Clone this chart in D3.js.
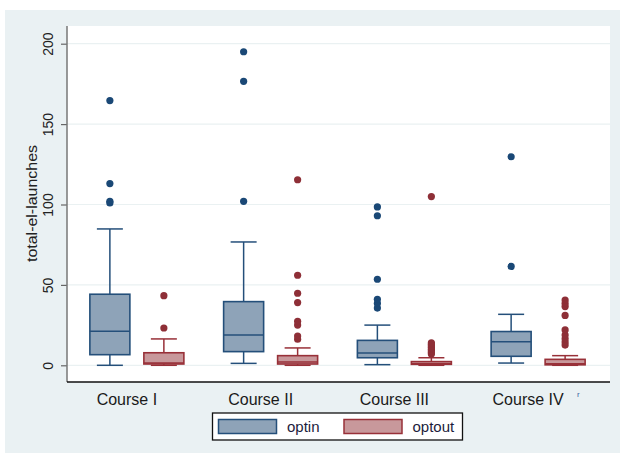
<!DOCTYPE html>
<html><head><meta charset="utf-8">
<script src="https://cdn.jsdelivr.net/npm/d3@7/dist/d3.min.js"></script>
<style>body{margin:0;background:#fff}svg{display:block;font-family:"Liberation Sans",Arial,sans-serif}</style>
</head><body>
<svg id="c" width="620" height="454"></svg>
<script>
const courses = ["Course I","Course II","Course III","Course IV"];
const series = ["optin","optout"];
const yTicks = [0,50,100,150,200];

const optinLow  = [0, 1.2, 0.4, 1.4];
const optinQ1   = [6.6, 8.5, 4.7, 5.6];
const optinMed  = [21.1, 18.8, 7.6, 14.7];
const optinQ3   = [44.2, 39.6, 15.5, 21];
const optinHigh = [84.8, 76.7, 25, 31.7];
const optinOut  = [[101, 102, 113, 164.6], [102, 176.6, 195], [35.6, 38.5, 41, 53.5, 93, 98.5], [61.5, 129.7]];

const optoutLow  = [0, 0, 0, 0];
const optoutQ1   = [0.8, 0.8, 0.6, 0.3];
const optoutMed  = [1.5, 2, 1, 1];
const optoutQ3   = [7.8, 6, 2.3, 3.7];
const optoutHigh = [16.4, 10.8, 4.7, 6];
const optoutOut  = [[23.2, 43.3], [16.2, 18.2, 25, 27.4, 39, 44.8, 56, 115.4], [7, 8, 9, 10, 11, 12, 13, 14, 104.9], [12.6, 14.5, 16.5, 18.8, 22, 31, 36.5, 38.5, 40.6]];

const colors = {
  optin:  {fill:"#8ea3b8", stroke:"#244f7a", marker:"#1a4876"},
  optout: {fill:"#c8989b", stroke:"#983038", marker:"#8e2f37"}
};

const stats = {
  optin: courses.map((c,i)=>({course:c, lo:optinLow[i], q1:optinQ1[i], med:optinMed[i], q3:optinQ3[i], hi:optinHigh[i], out:optinOut[i]})),
  optout: courses.map((c,i)=>({course:c, lo:optoutLow[i], q1:optoutQ1[i], med:optoutMed[i], q3:optoutQ3[i], hi:optoutHigh[i], out:optoutOut[i]}))
};

const svg = d3.select("#c");
// outer panel
svg.append("rect").attr("x",5).attr("y",10).attr("width",615).attr("height",443).attr("fill","#eaf1f3");
// plot region
const P = {l:67, r:610, t:26, b:382};
svg.append("rect").attr("x",P.l).attr("y",P.t).attr("width",P.r-P.l).attr("height",P.b-P.t).attr("fill","#fff");

const y = d3.scaleLinear().domain([0,200]).range([365.3,43.7]);
const x0 = d3.scaleBand().domain(courses).range([70,605]).padding(0);
const half = 47;
const x1 = d3.scaleBand().domain(series).range([x0.bandwidth()/2-half, x0.bandwidth()/2+half]).paddingInner(0.259).paddingOuter(0);

// grid
svg.append("g").selectAll("line").data(yTicks).join("line")
  .attr("x1",P.l).attr("x2",P.r).attr("y1",d=>y(d)).attr("y2",d=>y(d))
  .attr("stroke","#eaf1f2").attr("stroke-width",1.2);

// y axis
const ya = svg.append("g").attr("transform",`translate(${P.l},0)`)
  .call(d3.axisLeft(y).tickValues(yTicks).tickSize(6).tickPadding(3).tickFormat(d3.format("d")));
ya.select(".domain").remove();
ya.selectAll(".tick line").attr("stroke","#666").attr("stroke-width",1.2);
ya.selectAll(".tick text").attr("transform","rotate(-90)").attr("x",0).attr("y",-14).attr("dy",0)
  .attr("text-anchor","middle").attr("font-size",14).attr("fill","#222")
  .attr("font-family","'Liberation Sans',Arial,sans-serif");
svg.append("line").attr("x1",P.l).attr("x2",P.l).attr("y1",P.t).attr("y2",P.b).attr("stroke","#777").attr("stroke-width",1.5);

// x axis
const xa = svg.append("g").attr("transform",`translate(0,${P.b})`)
  .call(d3.axisBottom(x0).tickSize(0).tickPadding(8));
xa.select(".domain").remove();
xa.selectAll(".tick text").attr("font-size",16).attr("fill","#1a1a1a").attr("dx",-10).attr("dy","0.95em")
  .attr("font-family","'Liberation Sans',Arial,sans-serif");
svg.append("line").attr("x1",P.l).attr("x2",P.r).attr("y1",P.b).attr("y2",P.b).attr("stroke","#111").attr("stroke-width",1.5);

// y title
svg.append("text").attr("transform",`translate(36.5,203.5) rotate(-90)`).attr("text-anchor","middle")
  .attr("font-size",15).attr("fill","#222").attr("textLength",117).attr("lengthAdjust","spacingAndGlyphs")
  .text("total-el-launches");

// boxes
series.forEach(s=>{
  const c = colors[s];
  const g = svg.append("g");
  const bw = x1.bandwidth();
  const cap = bw*0.65;
  const grp = g.selectAll("g").data(stats[s]).join("g")
    .attr("transform",d=>`translate(${x0(d.course)+x1(s)},0)`);
  // whiskers
  grp.append("line").attr("x1",bw/2).attr("x2",bw/2).attr("y1",d=>y(d.q3)).attr("y2",d=>y(d.hi)).attr("stroke",c.stroke).attr("stroke-width",1.5);
  grp.append("line").attr("x1",bw/2).attr("x2",bw/2).attr("y1",d=>y(d.q1)).attr("y2",d=>y(d.lo)).attr("stroke",c.stroke).attr("stroke-width",1.5);
  grp.append("line").attr("x1",(bw-cap)/2).attr("x2",(bw+cap)/2).attr("y1",d=>y(d.hi)).attr("y2",d=>y(d.hi)).attr("stroke",c.stroke).attr("stroke-width",1.5);
  grp.append("line").attr("x1",(bw-cap)/2).attr("x2",(bw+cap)/2).attr("y1",d=>y(d.lo)).attr("y2",d=>y(d.lo)).attr("stroke",c.stroke).attr("stroke-width",1.5);
  // box
  grp.append("rect").attr("x",0).attr("width",bw).attr("y",d=>y(d.q3)).attr("height",d=>Math.max(1,y(d.q1)-y(d.q3)))
    .attr("fill",c.fill).attr("stroke",c.stroke).attr("stroke-width",1.6);
  grp.append("line").attr("x1",0).attr("x2",bw).attr("y1",d=>y(d.med)).attr("y2",d=>y(d.med)).attr("stroke",c.stroke).attr("stroke-width",1.5);
  // outliers
  grp.selectAll("circle").data(d=>d.out).join("circle")
    .attr("cx",bw/2).attr("cy",v=>y(v)).attr("r",3.6).attr("fill",c.marker);
});

// legend
const L = svg.append("g");
L.append("rect").attr("x",212.5).attr("y",413).attr("width",250).attr("height",27).attr("fill","#fff").attr("stroke","#111").attr("stroke-width",1.3);
const li = L.selectAll("g").data(series).join("g").attr("transform",(d,i)=>`translate(${218.5+i*125.5},419.5)`);
li.append("rect").attr("width",58).attr("height",14).attr("fill",d=>colors[d].fill).attr("stroke",d=>colors[d].stroke).attr("stroke-width",1.5);
li.append("text").attr("x",68.5).attr("y",12).attr("font-size",15).attr("fill","#1c1c3c").text(d=>d);

// stray mark
svg.append("text").attr("x",577).attr("y",397).attr("font-size",8).attr("fill","#3b5fa0").text("r");
</script>
</body></html>
